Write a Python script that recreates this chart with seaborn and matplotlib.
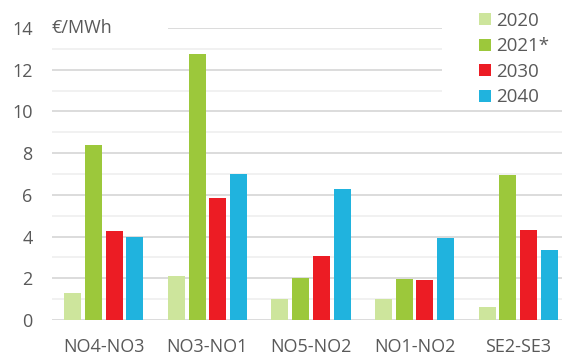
import matplotlib
matplotlib.use("Agg")
import matplotlib.pyplot as plt
from matplotlib.patches import Rectangle
import seaborn as sns
import pandas as pd

# Average price differences between bidding zones
corridors = ["NO4-NO3", "NO3-NO1", "NO5-NO2", "NO1-NO2", "SE2-SE3"]
years = ["2020", "2021*", "2030", "2040"]
v2020 = [1.3, 2.1, 1.0, 1.0, 0.6]
v2021 = [8.4, 12.75, 2.0, 1.95, 6.95]
v2030 = [4.25, 5.85, 3.05, 1.9, 4.3]
v2040 = [4.0, 7.0, 6.3, 3.95, 3.35]
colors = ["#cde59c", "#9cc83b", "#ec1c24", "#20b3de"]

rows = []
for year, vals in zip(years, [v2020, v2021, v2030, v2040]):
    for c, v in zip(corridors, vals):
        rows.append({"corridor": c, "year": year, "value": v})
df = pd.DataFrame(rows)

sns.set_style("white")
plt.rcParams["font.family"] = ["Open Sans", "DejaVu Sans"]
text_color = "#595959"

fig = plt.figure(figsize=(5.62, 3.58), dpi=100)
ax = fig.add_axes([52 / 562, 38 / 358, 518 / 562, 292 / 358])

sns.barplot(data=df, x="corridor", y="value", hue="year", order=corridors,
            hue_order=years, palette=colors, width=0.8, gap=0.18,
            saturation=1, linewidth=0, ax=ax, legend=True)

ax.set_ylim(0, 14)
ax.set_xlim(-0.5, len(corridors) - 0.5)
ax.set_yticks(range(0, 15, 2))
ax.set_yticks(range(1, 15, 2), minor=True)
ax.grid(axis="y", which="major", color="#d9d9d9", linewidth=1.3, zorder=0)
ax.grid(axis="y", which="minor", color="#f0f0f0", linewidth=1.3, zorder=0)
ax.set_axisbelow(True)
for s in ax.spines.values():
    s.set_visible(False)
ax.set_xlabel("")
ax.set_ylabel("")
ax.tick_params(axis="y", which="both", length=0, pad=14, labelsize=13,
               labelcolor=text_color)
ax.tick_params(axis="x", length=0, pad=13, labelsize=13, labelcolor=text_color)

# unit label sitting on the top gridline
ax.add_patch(Rectangle((-0.5, 13.6), 1.12, 0.8, facecolor="white",
                       edgecolor="none", zorder=1.5, clip_on=False))
ax.text(-0.5, 14, "€/MWh", ha="left", va="center", fontsize=13,
        color=text_color, zorder=3, clip_on=False)

handles, labels = ax.get_legend_handles_labels()
ax.get_legend().remove()
leg = fig.legend(handles, labels, loc="upper left",
                 bbox_to_anchor=(477 / 562, 1 - 10 / 358),
                 frameon=False, fontsize=13.5, handlelength=0.62,
                 handleheight=0.62, handletextpad=0.3, labelspacing=0.4,
                 borderpad=0.1, borderaxespad=0)
for t in leg.get_texts():
    t.set_color(text_color)

# white panel behind the legend, interrupting the upper gridlines
fig.patches.append(Rectangle((442 / 562, 1 - 104 / 358), 120 / 562, 104 / 358,
                             transform=fig.transFigure, facecolor="white",
                             edgecolor="none", zorder=5))
leg.set_zorder(6)

fig.savefig("out.png", dpi=100)
